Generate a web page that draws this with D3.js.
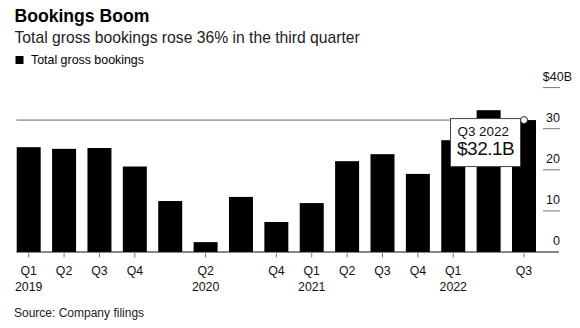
<!DOCTYPE html>
<html>
<head>
<meta charset="utf-8">
<script src="https://cdn.jsdelivr.net/npm/d3@7"></script>
<style>
  html, body { margin: 0; padding: 0; background: #fff; }
  svg { display: block; font-family: "Liberation Sans", Arial, Helvetica, sans-serif; }
</style>
</head>
<body>
<svg id="chart" width="580" height="328"></svg>
<script>
// Quarterly total gross bookings, billions of dollars
const quarters = ["Q1 2019","Q2 2019","Q3 2019","Q4 2019",
                  "Q1 2020","Q2 2020","Q3 2020","Q4 2020",
                  "Q1 2021","Q2 2021","Q3 2021","Q4 2021",
                  "Q1 2022","Q2 2022","Q3 2022"];
const bookings = [25.5, 25.1, 25.3, 20.8,
                  12.4, 2.4, 13.4, 7.3,
                  11.9, 22.1, 23.8, 19.0,
                  27.2, 34.5, 32.1];
// Axis labels: quarter line and year line (blank where no tick is shown)
const quarterLabels = ["Q1","Q2","Q3","Q4","","Q2","","Q4","Q1","Q2","Q3","Q4","Q1","","Q3"];
const yearLabels    = ["2019","","","","","2020","","","2021","","","","2022","",""];
const yTicks = [0, 10, 20, 30, 40];
const highlighted = "Q3 2022";

const svg = d3.select("#chart");

// Header
svg.append("text").attr("x", 14.5).attr("y", 22)
  .attr("font-size", 17.6).attr("font-weight", "bold").attr("fill", "#000")
  .text("Bookings Boom");
svg.append("text").attr("x", 14.5).attr("y", 42.5)
  .attr("font-size", 15.7).attr("fill", "#222")
  .text("Total gross bookings rose 36% in the third quarter");
svg.append("rect").attr("x", 15.5).attr("y", 56).attr("width", 8).attr("height", 8).attr("fill", "#000");
svg.append("text").attr("x", 31).attr("y", 64.3)
  .attr("font-size", 12.4).attr("fill", "#000")
  .text("Total gross bookings");

// Scales
const x = d3.scaleBand().domain(quarters).range([11, 541.7]).paddingInner(0.322).paddingOuter(0.161);
const y = d3.scaleLinear().domain([0, 40]).range([252, 87.6]);

// Right-hand value axis: short rules with labels above them
const yAxis = svg.append("g");
yAxis.selectAll("line.tick").data(yTicks.filter(d => d > 0)).join("line")
  .attr("class", "tick")
  .attr("x1", 543).attr("x2", 560)
  .attr("y1", d => y(d)).attr("y2", d => y(d))
  .attr("stroke", "#777").attr("stroke-width", 1);
yAxis.selectAll("text").data(yTicks).join("text")
  .attr("x", d => d === 40 ? 572 : 560)
  .attr("y", d => y(d) - 7)
  .attr("text-anchor", "end")
  .attr("font-size", 12.5).attr("fill", "#111")
  .text(d => d === 40 ? "$" + d + "B" : d);

// Bars
svg.append("g").selectAll("rect").data(quarters).join("rect")
  .attr("x", d => x(d))
  .attr("width", x.bandwidth())
  .attr("y", (d, i) => y(bookings[i]))
  .attr("height", (d, i) => y(0) - y(bookings[i]))
  .attr("fill", "#000");

// Baseline and quarter ticks
svg.append("line").attr("x1", 16.5).attr("x2", 559).attr("y1", y(0)).attr("y2", y(0))
  .attr("stroke", "#111").attr("stroke-width", 1);
const xAxis = svg.append("g");
const labelled = quarters.map((q, i) => ({ q, i })).filter(d => quarterLabels[d.i] !== "");
xAxis.selectAll("line").data(labelled).join("line")
  .attr("x1", d => x(d.q) + x.bandwidth() / 2).attr("x2", d => x(d.q) + x.bandwidth() / 2)
  .attr("y1", y(0) + 1).attr("y2", y(0) + 5.5)
  .attr("stroke", "#777").attr("stroke-width", 1);
xAxis.selectAll("text.q").data(labelled).join("text")
  .attr("class", "q")
  .attr("x", d => x(d.q) + x.bandwidth() / 2).attr("y", 275)
  .attr("text-anchor", "middle").attr("font-size", 12.3).attr("fill", "#111")
  .text(d => quarterLabels[d.i]);
xAxis.selectAll("text.yr").data(labelled.filter(d => yearLabels[d.i] !== "")).join("text")
  .attr("class", "yr")
  .attr("x", d => x(d.q) + x.bandwidth() / 2).attr("y", 291)
  .attr("text-anchor", "middle").attr("font-size", 12.3).attr("fill", "#111")
  .text(d => yearLabels[d.i]);

// Hover marker on the highlighted quarter
const hi = quarters.indexOf(highlighted);
const hx = x(highlighted) + x.bandwidth() / 2;
const hy = y(bookings[hi]);
svg.append("line").attr("x1", 16.5).attr("x2", hx).attr("y1", hy).attr("y2", hy)
  .attr("stroke", "#666").attr("stroke-width", 1);

const tip = svg.append("g").attr("transform", `translate(450.5, ${hy - 1.5})`);
tip.append("rect").attr("width", 70).attr("height", 48)
  .attr("fill", "#fff").attr("stroke", "#444").attr("stroke-width", 1);
tip.append("text").attr("x", 7).attr("y", 17)
  .attr("font-size", 13.4).attr("fill", "#111")
  .text(highlighted);
tip.append("text").attr("x", 6.5).attr("y", 36.5)
  .attr("font-size", 19).attr("letter-spacing", -0.5).attr("fill", "#111")
  .text("$" + d3.format(".1f")(bookings[hi]) + "B");

svg.append("circle").attr("cx", hx).attr("cy", hy).attr("r", 3.5)
  .attr("fill", "#fff").attr("stroke", "#222").attr("stroke-width", 1);

// Footer
svg.append("text").attr("x", 14).attr("y", 317)
  .attr("font-size", 12).attr("fill", "#222")
  .text("Source: Company filings");
</script>
</body>
</html>
